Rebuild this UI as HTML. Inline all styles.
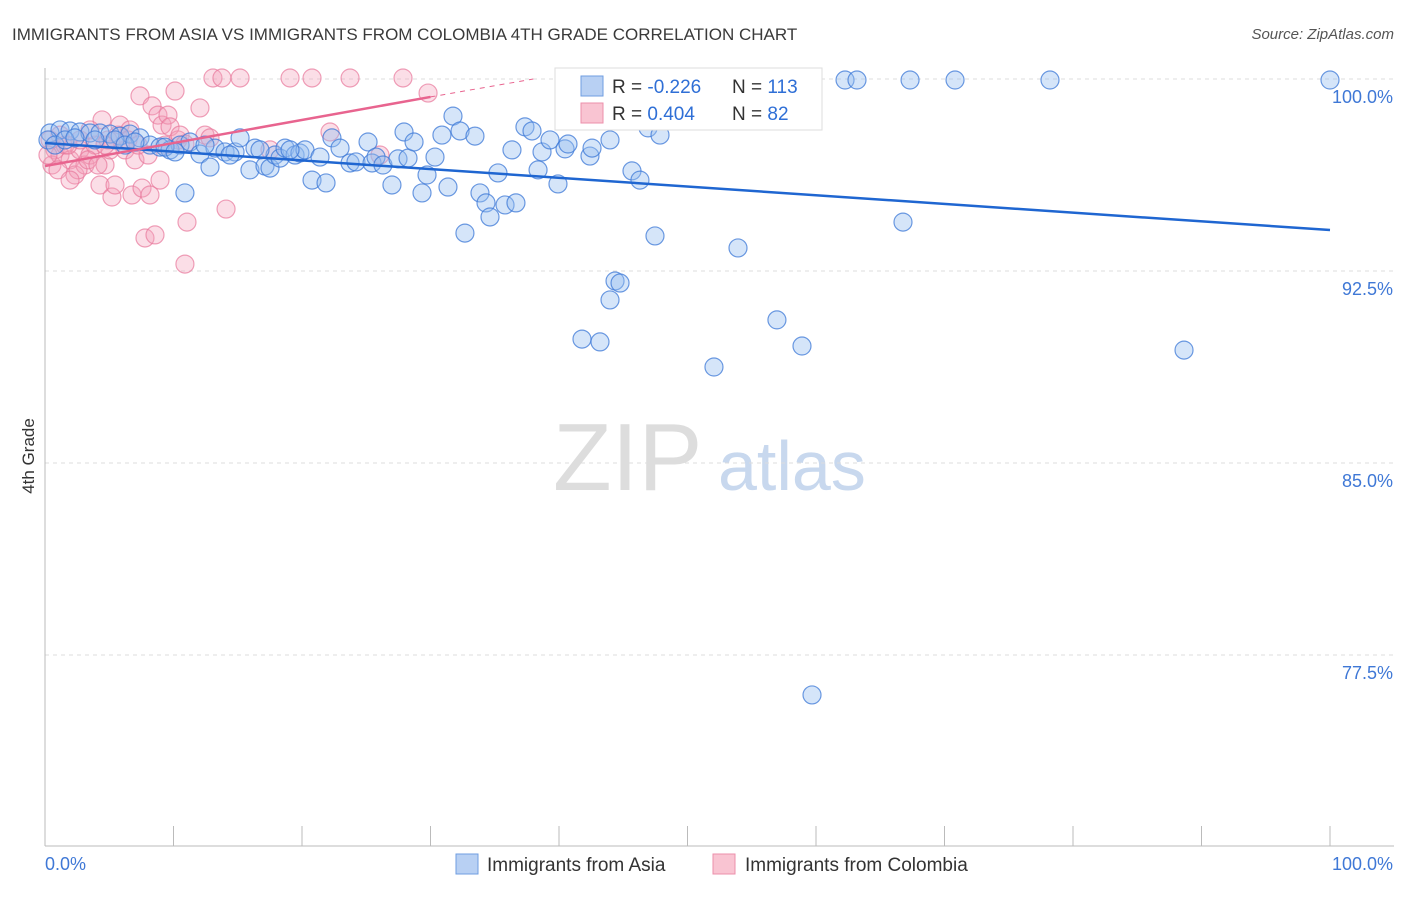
<!DOCTYPE html>
<html><head><meta charset="utf-8"><style>
body{margin:0;background:#fff;font-family:"Liberation Sans",sans-serif}
svg text{font-family:"Liberation Sans",sans-serif}
</style></head><body>
<svg id="chart" width="1406" height="892" xmlns="http://www.w3.org/2000/svg">
<text x="12" y="40" font-size="17" fill="#3a3a3a">IMMIGRANTS FROM ASIA VS IMMIGRANTS FROM COLOMBIA 4TH GRADE CORRELATION CHART</text>
<text x="1394" y="39" font-size="15" fill="#555" font-style="italic" text-anchor="end">Source: ZipAtlas.com</text>
<text x="34" y="456" font-size="17" fill="#333" transform="rotate(-90 34 456)" text-anchor="middle">4th Grade</text>
<text x="553" y="490" font-size="96" fill="#ddd" font-family="Liberation Serif">ZIP</text>
<text x="718" y="490" font-size="70" fill="#c8d8ee">atlas</text>
<g id="grid"></g><g id="axes"></g><g id="pink"></g><g id="blue"></g><g id="lines"></g>
<g>
<rect x="555" y="68" width="267" height="62" fill="#fff" stroke="#ddd"/>
<rect x="581" y="76" width="22" height="20" fill="#b8d0f3" stroke="#6f9ee0"/>
<rect x="581" y="103" width="22" height="20" fill="#f9c4d2" stroke="#ec8fab"/>
<text x="612" y="93" font-size="19" fill="#333">R = <tspan fill="#2f6fd6">-0.226</tspan></text>
<text x="732" y="93" font-size="19" fill="#333">N = <tspan fill="#2f6fd6">113</tspan></text>
<text x="612" y="120" font-size="19" fill="#333">R = <tspan fill="#2f6fd6"> 0.404</tspan></text>
<text x="732" y="120" font-size="19" fill="#333">N = <tspan fill="#2f6fd6"> 82</tspan></text>
</g>
<g>
<rect x="456" y="854" width="22" height="20" fill="#b8d0f3" stroke="#6f9ee0"/>
<text x="487" y="871" font-size="19" fill="#333">Immigrants from Asia</text>
<rect x="713" y="854" width="22" height="20" fill="#f9c4d2" stroke="#ec8fab"/>
<text x="745" y="871" font-size="19" fill="#333">Immigrants from Colombia</text>
</g>
</svg>
<script>
const yTicks=[100,92.5,85,77.5];
const yTickLabels=["100.0%","92.5%","85.0%","77.5%"];
const xTickLabels=["0.0%","100.0%"];
const bluePx=[[50,133],[60,130],[70,131],[80,132],[90,133],[100,133],[110,134],[120,136],[130,134],[140,138],[150,145],[160,147],[170,150],[180,145],[185,193],[190,142],[200,154],[210,167],[215,148],[225,152],[235,152],[240,138],[250,170],[255,148],[265,166],[270,168],[275,155],[280,158],[285,148],[295,155],[300,153],[305,150],[312,180],[320,157],[326,183],[332,138],[340,148],[350,163],[356,162],[368,142],[372,163],[376,157],[383,165],[392,185],[398,159],[404,132],[408,158],[414,142],[422,193],[427,175],[435,157],[442,135],[448,187],[453,116],[460,131],[465,233],[475,136],[480,193],[486,203],[490,217],[498,173],[505,205],[512,150],[516,203],[525,127],[532,131],[538,170],[542,152],[550,140],[558,184],[565,149],[568,144],[590,156],[592,148],[600,85],[610,140],[615,281],[620,283],[610,300],[582,339],[600,342],[632,171],[640,180],[648,128],[655,236],[660,135],[714,367],[725,80],[730,80],[738,248],[777,320],[802,346],[812,695],[845,80],[857,80],[903,222],[910,80],[955,80],[1050,80],[1184,350],[1330,80],[48,140],[55,145],[65,140],[75,138],[95,140],[115,140],[125,145],[135,142],[165,147],[175,152],[205,145],[230,155],[260,150],[290,150]];
const pinkPx=[[50,140],[55,150],[52,165],[60,155],[65,145],[70,160],[75,175],[80,150],[85,165],[90,155],[95,145],[100,185],[102,120],[105,165],[110,150],[112,197],[115,185],[118,135],[120,125],[125,150],[130,130],[132,195],[135,160],[140,96],[142,188],[145,238],[148,155],[150,195],[152,106],[155,235],[158,115],[160,180],[162,125],[165,145],[168,115],[170,127],[175,91],[178,140],[180,135],[185,144],[187,222],[185,264],[200,108],[205,135],[210,138],[213,78],[222,78],[226,209],[240,78],[270,150],[290,78],[312,78],[330,132],[350,78],[380,155],[403,78],[428,93],[48,155],[58,170],[68,145],[78,170],[88,160],[98,165],[108,140],[128,140],[138,145],[60,135],[70,180],[80,140],[90,130],[105,145]];
// convert read pixel positions to data values
const blueX=bluePx.map(p=>+((p[0]-45)/12.85).toFixed(2));
const blueY=bluePx.map(p=>+(100-(p[1]-79)/25.6).toFixed(2));
const pinkX=pinkPx.map(p=>+((p[0]-45)/12.85).toFixed(2));
const pinkY=pinkPx.map(p=>+(100-(p[1]-79)/25.6).toFixed(2));
const blueTrend=[[0,97.5],[100,94.1]];
const pinkTrend=[[0,96.6],[30,99.3],[38,100]];
const sx=v=>45+v*12.85, sy=v=>79+(100-v)*25.6;
const NS="http://www.w3.org/2000/svg";
function mk(tag,attrs,parent){const e=document.createElementNS(NS,tag);for(const k in attrs)e.setAttribute(k,attrs[k]);document.getElementById(parent).appendChild(e);return e;}
yTicks.forEach((t,i)=>{
 const l=mk('line',{x1:45,x2:1394,y1:sy(t),y2:sy(t),stroke:'#ddd','stroke-dasharray':'4,4'},'grid');
 
 
 const tx=mk('text',{x:1393,y:sy(t)+24,'font-size':18,fill:'#3f78d6','text-anchor':'end'},'axes');
 tx.textContent=yTickLabels[i];
 
 
});
const ax=mk('line',{x1:45,x2:45,y1:68,y2:846,stroke:'#bbb'},'axes');


const bx=mk('line',{x1:45,x2:1394,y1:846,y2:846,stroke:'#bbb'},'axes');


for(let i=0;i<=10;i++){const t=mk('line',{x1:sx(i*10),x2:sx(i*10),y1:826,y2:846,stroke:'#bbb'},'axes');
 
 }
[[45,'start'],[1393,'end']].forEach((p,i)=>{const t=mk('text',{x:p[0],y:870,'font-size':18,fill:'#3f78d6','text-anchor':p[1]},'axes');t.textContent=xTickLabels[i];
 
 });
pinkX.forEach((x,i)=>{const c=mk('circle',{cx:sx(x),cy:sy(pinkY[i]),r:9,fill:'rgba(244,160,186,0.35)',stroke:'rgba(232,120,155,0.7)','stroke-width':1.2},'pink');
 
 });
blueX.forEach((x,i)=>{const c=mk('circle',{cx:sx(x),cy:sy(blueY[i]),r:9,fill:'rgba(150,190,240,0.4)',stroke:'rgba(60,120,215,0.75)','stroke-width':1.2},'blue');
 
 });
const bl=mk('line',{x1:sx(blueTrend[0][0]),y1:sy(blueTrend[0][1]),x2:sx(blueTrend[1][0]),y2:sy(blueTrend[1][1]),stroke:'#1f66d1','stroke-width':2.5},'lines');


const pl=mk('line',{x1:sx(pinkTrend[0][0]),y1:sy(pinkTrend[0][1]),x2:sx(pinkTrend[1][0]),y2:sy(pinkTrend[1][1]),stroke:'#e8648f','stroke-width':2.5},'lines');


const pd=mk('line',{x1:sx(pinkTrend[1][0]),y1:sy(pinkTrend[1][1]),x2:sx(pinkTrend[2][0]),y2:sy(pinkTrend[2][1]),stroke:'#e8648f','stroke-width':1,'stroke-dasharray':'5,5'},'lines');


</script>
</body></html>
